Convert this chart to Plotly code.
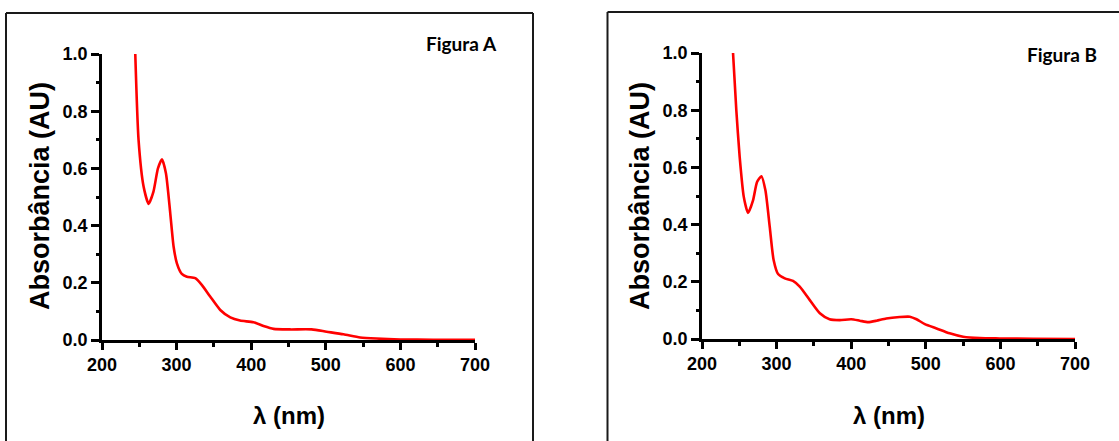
import plotly.graph_objects as go

# ---- Data ----
wl_a = [244.6, 249, 255.8, 262.5, 269, 275, 280.4, 285.7, 291.5, 296, 300.4, 307, 313.8, 325, 334,
        345, 358.5, 372, 385, 403, 416.5, 430, 452, 481, 501, 523.7, 546, 568, 600, 644, 700]
abs_a = [1.0, 0.70, 0.536, 0.476, 0.519, 0.60, 0.632, 0.583, 0.443, 0.326, 0.268, 0.231, 0.221, 0.216, 0.192,
         0.152, 0.105, 0.079, 0.068, 0.062, 0.049, 0.039, 0.037, 0.037, 0.029, 0.020, 0.009, 0.005, 0.002, 0.001, 0.001]

wl_b = [241.6, 246, 250.5, 256, 261.7, 268.4, 273.8, 279.6, 285, 290.8, 296, 302, 311, 322, 331, 344.5,
        358, 371, 384.7, 400, 411.5, 422.7, 434, 447, 465, 478.6, 487.6, 498.7, 514.4, 532, 550, 572.5, 599, 644, 700]
abs_b = [1.0, 0.80, 0.637, 0.497, 0.441, 0.485, 0.549, 0.569, 0.520, 0.392, 0.276, 0.227, 0.212, 0.203, 0.183, 0.136,
         0.090, 0.069, 0.066, 0.069, 0.064, 0.059, 0.064, 0.072, 0.077, 0.078, 0.069, 0.052, 0.037, 0.020, 0.008, 0.003, 0.002, 0.001, 0.0]

x_ticks = [200, 300, 400, 500, 600, 700]
y_ticks = [0.0, 0.2, 0.4, 0.6, 0.8, 1.0]
panel_labels = ["Figura A", "Figura B"]
x_title = "λ (nm)"
y_title = "Absorbância (AU)"

W, H = 1119, 441
FONT = "Liberation Sans, Arial, sans-serif"

def px(x):
    return x / W

def py(y):
    return 1 - y / H

fig = go.Figure()
fig.add_trace(go.Scatter(x=wl_a, y=abs_a, mode="lines", line=dict(color="#ff0000", width=2.6, shape="spline", smoothing=0.6),
                         xaxis="x", yaxis="y", showlegend=False))
fig.add_trace(go.Scatter(x=wl_b, y=abs_b, mode="lines", line=dict(color="#ff0000", width=2.6, shape="spline", smoothing=0.6),
                         xaxis="x2", yaxis="y2", showlegend=False))

def xaxis_cfg(dom, anchor):
    return dict(domain=dom, anchor=anchor, range=[200, 700], tickvals=x_ticks, ticktext=[str(v) for v in x_ticks],
                showline=True, linecolor="black", linewidth=2.5, ticks="outside", ticklen=7, tickwidth=2.5,
                tickcolor="black", showgrid=False, zeroline=False, layer="below traces", automargin=False,
                tickfont=dict(family=FONT, size=18, color="black", weight="bold"),
                minor=dict(dtick=50, tick0=200, ticks="outside", ticklen=4, tickwidth=2.5, tickcolor="black", showgrid=False))

def yaxis_cfg(dom, anchor):
    return dict(domain=dom, anchor=anchor, range=[0, 1], tickvals=y_ticks, ticktext=[f"{v:.1f}" for v in y_ticks],
                showline=True, linecolor="black", linewidth=2.5, ticks="outside", ticklen=8, tickwidth=2.5,
                tickcolor="black", showgrid=False, zeroline=False, layer="below traces", automargin=False,
                tickfont=dict(family=FONT, size=18, color="black", weight="bold"),
                minor=dict(dtick=0.1, tick0=0, ticks="outside", ticklen=3, tickwidth=2.5, tickcolor="black", showgrid=False))

fig.update_layout(
    width=W, height=H, margin=dict(l=0, r=0, t=0, b=0, pad=0, autoexpand=False),
    paper_bgcolor="white", plot_bgcolor="white",
    xaxis=xaxis_cfg([px(102), px(475)], "y"),
    yaxis=yaxis_cfg([py(340), py(54)], "x"),
    xaxis2=xaxis_cfg([px(702), px(1075)], "y2"),
    yaxis2=yaxis_cfg([py(339), py(53)], "x2"),
)

# frames (open at bottom / right where they leave the picture)
frame_line = dict(color="#1a1a1a", width=2)
for x0, x1, ytop, close_right in [(6, 533, 13, True), (607.5, W, 12, False)]:
    fig.add_shape(type="line", xref="paper", yref="paper", x0=px(x0), x1=px(x1), y0=py(ytop), y1=py(ytop), line=frame_line)
    fig.add_shape(type="line", xref="paper", yref="paper", x0=px(x0), x1=px(x0), y0=0, y1=py(ytop), line=frame_line)
    if close_right:
        fig.add_shape(type="line", xref="paper", yref="paper", x0=px(x1), x1=px(x1), y0=0, y1=py(ytop), line=frame_line)

# titles
for cx, cy_t in [(40, 196), (640, 196)]:
    fig.add_annotation(xref="paper", yref="paper", x=px(cx), y=py(cy_t), text=f"<b>{y_title}</b>", textangle=-90,
                       showarrow=False, font=dict(family=FONT, size=27, color="black"), xanchor="center", yanchor="middle")
for cx in [288.5, 888.5]:
    fig.add_annotation(xref="paper", yref="paper", x=px(cx), y=py(415), text=f"<b>{x_title}</b>",
                       showarrow=False, font=dict(family=FONT, size=24, color="black"), xanchor="center", yanchor="middle")

for (cx, cy_l), lab in zip([(461.5, 44), (1062, 55)], panel_labels):
    fig.add_annotation(xref="paper", yref="paper", x=px(cx), y=py(cy_l), text=f"<b>{lab}</b>",
                       showarrow=False, font=dict(family="Lato, Carlito, sans-serif", size=19, color="black"),
                       xanchor="center", yanchor="middle")

fig.write_html("out.html", config={"displayModeBar": False},
               post_script="document.body.style.margin='0';document.body.style.overflow='hidden';")
